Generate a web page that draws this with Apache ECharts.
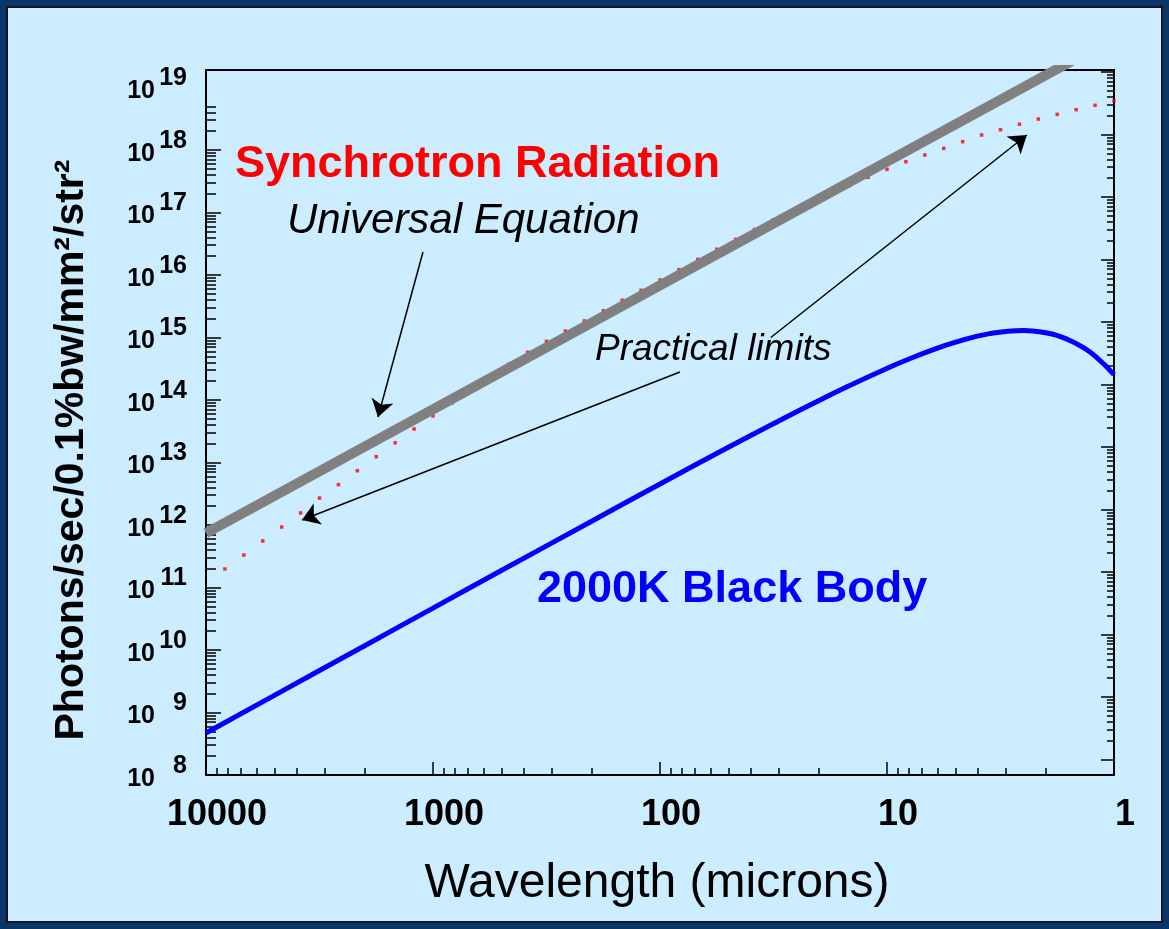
<!DOCTYPE html>
<html><head><meta charset="utf-8">
<script src="https://cdn.jsdelivr.net/npm/echarts@6/dist/echarts.min.js"></script>
<style>
html,body{margin:0;padding:0;background:#0B3566;width:1169px;height:929px;overflow:hidden}
#frame{position:absolute;left:6px;top:6px;width:1153px;height:913px;background:#CCECFF;border:2px solid #141428}
#chart{position:absolute;left:0;top:0;width:1169px;height:929px}
</style></head><body><div id="frame"></div><div id="chart"></div>
<script>
// ---------- data (wavelength in microns, photons/sec/0.1%bw/mm^2/str^2) ----------
const universalLambda = [10000, 1000, 100, 10, 1];
const universalFlux   = [7.4e11, 7.1e13, 6.8e15, 6.5e17, 6.2e19];

const practicalLambda = [8254, 6813, 5623, 4642, 3831, 3162, 2610, 2154, 1778, 1468, 1212, 1000,
  825.4, 681.3, 562.3, 464.2, 383.1, 316.2, 261.0, 215.4, 177.8, 146.8, 121.2, 100,
  82.54, 68.13, 56.23, 46.42, 38.31, 31.62, 26.10, 21.54, 17.78, 14.68, 12.12, 10,
  8.254, 6.813, 5.623, 4.642, 3.831, 3.162, 2.610, 2.154, 1.778, 1.468, 1.212, 1];
const practicalFlux = [1.98e11, 3.31e11, 5.55e11, 9.29e11, 1.56e12, 2.70e12, 4.42e12, 7.39e12, 1.24e13, 2.07e13,
  3.44e13, 5.55e13, 8.95e13, 1.45e14, 2.36e14, 3.72e14, 5.80e14, 8.69e14, 1.27e15, 1.84e15,
  2.68e15, 3.94e15, 5.69e15, 8.32e15, 1.22e16, 1.78e16, 2.58e16, 3.72e16, 5.35e16, 7.59e16,
  1.06e17, 1.47e17, 2.01e17, 2.70e17, 3.66e17, 4.91e17, 6.50e17, 8.32e17, 1.06e18, 1.36e18,
  1.74e18, 2.11e18, 2.58e18, 3.13e18, 3.72e18, 4.42e18, 5.19e18, 6.08e18];

const blackbodyLambda = [10000, 5000, 2000, 1000, 500, 200, 100, 50, 30, 20, 15, 10, 8, 6, 5, 4,
  3.5, 3, 2.5, 2.2, 2, 1.8, 1.6, 1.4, 1.2, 1];
const blackbodyFlux = [4.7e8, 1.88e9, 1.17e10, 4.68e10, 1.87e11, 1.15e12, 4.53e12, 1.75e13, 4.62e13, 9.76e13,
  1.63e14, 3.21e14, 4.53e14, 6.76e14, 8.41e14, 1.05e15, 1.16e15, 1.25e15, 1.29e15, 1.25e15,
  1.19e15, 1.09e15, 9.3e14, 7.3e14, 4.9e14, 2.54e14];

const xTickLabels = ['1', '10', '100', '1000', '10000'];   // decades 10^0 .. 10^4
const yTickExponents = [8, 9, 10, 11, 12, 13, 14, 15, 16, 17, 18, 19];

// ---------- helpers ----------
const L = Math.log10;
const FONT = '"Liberation Sans", Arial, Helvetica, sans-serif';
const toPts = (xs, ys) => xs.map((x, i) => [L(x), L(ys[i])]);
function minorTicks(n0, n1, kMaxLast) {
  const out = [];
  for (let n = n0; n <= n1; n++) {
    const kmax = (n === n1 && kMaxLast) ? kMaxLast : 9;
    for (let k = 2; k <= kmax; k++) out.push(n + L(k));
  }
  return out;
}
const Y_MIN = 8, Y_MAX = 19.28;          // left scale (log10)
const YR_MIN = 7.752, YR_MAX = 19.032;   // right frame scale (offset ticks, as in the original)

// annotation arrows (from, to) in data space
const arrows = [
  [[1107, 2.33e16], [1747, 5.35e13]],
  [[81.7, 2.81e14], [3776, 1.20e12]],
  [[32.5, 1.0e15], [2.42, 1.74e18]]
];

const black = '#000';
const chart = echarts.init(document.getElementById('chart'), null, {renderer: 'canvas'});
const option = {
  animation: false,
  backgroundColor: 'transparent',
  textStyle: {fontFamily: FONT},
  grid: {left: 206, right: 55, top: 70, bottom: 154, containLabel: false, outerBoundsMode: 'none'},
  xAxis: [
    { type: 'value', min: 0, max: 4, inverse: true, position: 'bottom',
      axisLine: {show: true, onZero: false, lineStyle: {color: black, width: 2}},
      axisTick: {show: true, inside: true, length: 13, customValues: [1, 2, 3], lineStyle: {color: black, width: 1.5}},
      axisLabel: {show: true, customValues: [0, 1, 2, 3, 4], margin: 22, padding: [0, 0, 0, 22],
        formatter: v => xTickLabels[Math.round(v)], color: black, fontSize: 36, fontWeight: 'bold', fontFamily: FONT},
      splitLine: {show: false} },
    { type: 'value', min: 0, max: 4, inverse: true, position: 'bottom',
      axisLine: {show: false, onZero: false},
      axisTick: {show: true, inside: true, length: 7, customValues: minorTicks(0, 3), lineStyle: {color: black, width: 1.5}},
      axisLabel: {show: false}, splitLine: {show: false} },
    { type: 'value', min: 0, max: 4, inverse: true, position: 'top',
      axisLine: {show: true, onZero: false, lineStyle: {color: black, width: 2}},
      axisTick: {show: false}, axisLabel: {show: false}, splitLine: {show: false} }
  ],
  yAxis: [
    { type: 'value', min: Y_MIN, max: Y_MAX, position: 'left',
      axisLine: {show: true, onZero: false, lineStyle: {color: black, width: 2}},
      axisTick: {show: true, inside: true, length: 15, customValues: yTickExponents.slice(0, 11), lineStyle: {color: black, width: 1.5}},
      axisLabel: {show: true, customValues: yTickExponents, margin: 19, padding: [0, 0, 5, 0],
        formatter: v => '{b|10}{s|' + Math.round(v) + '}',
        rich: {
          b: {fontSize: 25, fontWeight: 'bold', color: black, fontFamily: FONT, verticalAlign: 'bottom'},
          s: {fontSize: 25, fontWeight: 'bold', color: black, fontFamily: FONT, width: 32, align: 'right', padding: [0, 0, 13, 0], verticalAlign: 'top'}
        }},
      splitLine: {show: false} },
    { type: 'value', min: Y_MIN, max: Y_MAX, position: 'left',
      axisLine: {show: false, onZero: false},
      axisTick: {show: true, inside: true, length: 10, customValues: minorTicks(8, 18, 5), lineStyle: {color: black, width: 1.5}},
      axisLabel: {show: false}, splitLine: {show: false} },
    { type: 'value', min: YR_MIN, max: YR_MAX, position: 'right',
      axisLine: {show: true, onZero: false, lineStyle: {color: black, width: 2}},
      axisTick: {show: true, inside: true, length: 13, customValues: yTickExponents, lineStyle: {color: black, width: 1.5}},
      axisLabel: {show: false}, splitLine: {show: false} },
    { type: 'value', min: YR_MIN, max: YR_MAX, position: 'right',
      axisLine: {show: false, onZero: false},
      axisTick: {show: true, inside: true, length: 7, customValues: minorTicks(8, 18), lineStyle: {color: black, width: 1.5}},
      axisLabel: {show: false}, splitLine: {show: false} }
  ],
  series: [
    { name: 'Practical limits', type: 'scatter', xAxisIndex: 0, yAxisIndex: 0, z: 2, silent: true,
      symbol: 'rect', symbolSize: 3.5, itemStyle: {color: '#FF0000'},
      data: toPts(practicalLambda, practicalFlux) },
    { name: '2000K Black Body', type: 'line', xAxisIndex: 0, yAxisIndex: 0, z: 3, silent: true,
      smooth: true, showSymbol: false, lineStyle: {color: '#0000FF', width: 5},
      data: toPts(blackbodyLambda, blackbodyFlux) },
    { name: 'Universal Equation', type: 'line', xAxisIndex: 0, yAxisIndex: 0, z: 4, silent: true,
      showSymbol: false, lineStyle: {color: '#808080', width: 10, cap: 'butt'}, clip: true,
      data: toPts(universalLambda, universalFlux) },
    { name: 'arrows', type: 'line', xAxisIndex: 0, yAxisIndex: 0, z: 5, silent: true, data: [],
      markLine: { silent: true, animation: false, symbol: ['none', 'arrow'], symbolSize: 17,
        label: {show: false}, emphasis: {disabled: true},
        lineStyle: {color: black, width: 1.5, type: 'solid'},
        data: arrows.map(a => [{coord: [L(a[0][0]), L(a[0][1])]}, {coord: [L(a[1][0]), L(a[1][1])]}]) } }
  ],
  graphic: [
    {type: 'text', x: 235, y: 165, z: 10, silent: true,
     style: {text: 'Synchrotron Radiation', fill: '#FF0000', fontSize: 45, fontWeight: 'bold', fontFamily: FONT, align: 'left', verticalAlign: 'middle'}},
    {type: 'text', x: 287, y: 221, z: 10, silent: true,
     style: {text: 'Universal Equation', fill: black, fontSize: 42, fontStyle: 'italic', fontFamily: FONT, align: 'left', verticalAlign: 'middle'}},
    {type: 'text', x: 595, y: 350, z: 10, silent: true,
     style: {text: 'Practical limits', fill: black, fontSize: 37, fontStyle: 'italic', fontFamily: FONT, align: 'left', verticalAlign: 'middle'}},
    {type: 'text', x: 537, y: 590, z: 10, silent: true,
     style: {text: '2000K Black Body', fill: '#0000FF', fontSize: 45, fontWeight: 'bold', fontFamily: FONT, align: 'left', verticalAlign: 'middle'}},
    {type: 'text', x: 72, y: 450, rotation: Math.PI / 2, z: 10, silent: true,
     style: {text: 'Photons/sec/0.1%bw/mm²/str²', fill: black, fontSize: 41, fontWeight: 'bold', fontFamily: FONT, align: 'center', verticalAlign: 'middle'}},
    {type: 'text', x: 657, y: 884, z: 10, silent: true,
     style: {text: 'Wavelength (microns)', fill: black, fontSize: 48, fontFamily: FONT, align: 'center', verticalAlign: 'middle'}}
  ]
};
chart.setOption(option);
</script></body></html>
